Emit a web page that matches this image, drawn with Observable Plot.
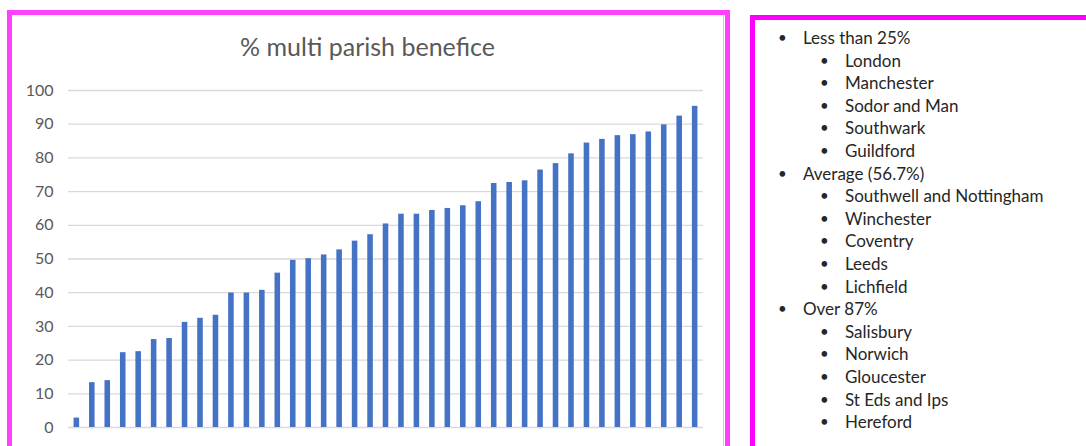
<!DOCTYPE html>
<html>
<head>
<meta charset="utf-8">
<script src="https://cdn.jsdelivr.net/npm/d3@7"></script>
<script src="https://cdn.jsdelivr.net/npm/@observablehq/plot@0.6"></script>
<style>
  html, body { margin: 0; padding: 0; background: #fff; width: 1086px; height: 446px; overflow: hidden; }
  #leftPanel { position: absolute; left: 7px; top: 10px; width: 713px; height: 460px; border: 5px solid #ff40ff; box-sizing: content-box; }
  #leftInner { position: absolute; left: 12px; top: 15px; width: 711px; height: 460px; border-right: 1px solid #d0d0d0; }
  #rightPanel { position: absolute; left: 750px; top: 15px; width: 400px; height: 460px; border: 5px solid #ff00ff; }
  #title { position: absolute; left: 0; width: 735px; top: 31px; text-align: center; font-family: Lato, sans-serif; font-size: 25px; color: #595959; }
  #chart { position: absolute; left: 0; top: 0; }
  #list { position: absolute; left: 0; top: 0; font-family: Lato, sans-serif; font-size: 17px; color: #262626; }
  .item { position: absolute; white-space: nowrap; }
  .bullet { position: absolute; font-size: 15px; }
</style>
</head>
<body>
<div id="leftPanel"></div>
<div id="leftInner"></div>
<div id="rightPanel"></div>
<div id="title"></div>
<div id="chart"></div>
<div id="list"></div>
<script>
const chartTitle = "% multi parish benefice";
const values = [2.8, 13.3, 13.9, 22.2, 22.5, 26.1, 26.4, 31.2, 32.4, 33.3,
                39.9, 39.9, 40.7, 45.8, 49.6, 50.1, 51.2, 52.7, 55.3, 57.2,
                60.4, 63.3, 63.3, 64.4, 65.0, 65.8, 67.0, 72.4, 72.7, 73.2,
                76.4, 78.3, 81.2, 84.4, 85.5, 86.6, 86.9, 87.7, 89.8, 92.4, 95.3];
const yTicks = [0, 10, 20, 30, 40, 50, 60, 70, 80, 90, 100];
const groups = ["Less than 25%", "Average (56.7%)", "Over 87%"];
const groupMembers = [
  ["London", "Manchester", "Sodor and Man", "Southwark", "Guildford"],
  ["Southwell and Nottingham", "Winchester", "Coventry", "Leeds", "Lichfield"],
  ["Salisbury", "Norwich", "Gloucester", "St Eds and Ips", "Hereford"]
];

document.getElementById("title").textContent = chartTitle;

const data = values.map((v, i) => ({i, v}));

const plot = Plot.plot({
  width: 740,
  height: 446,
  marginLeft: 68,
  marginRight: 37,
  marginTop: 90,
  marginBottom: 19,
  style: {background: "transparent", fontFamily: "Lato, sans-serif", fontSize: "16px", color: "#595959"},
  x: {type: "band", domain: d3.range(values.length), paddingInner: 0.64, paddingOuter: 0.36, round: false, axis: null},
  y: {domain: [0, 100], ticks: yTicks, label: null},
  marks: [
    Plot.gridY(yTicks, {stroke: "#d9d9d9", strokeOpacity: 1, strokeWidth: 1.3}),
    Plot.axisY(yTicks, {tickSize: 0, tickPadding: 15, label: null, fill: "#595959", fontSize: 16}),
    Plot.barY(data, {x: "i", y: "v", fill: "#4472c4"})
  ]
});
document.getElementById("chart").appendChild(plot);

// Bulleted list
const list = document.getElementById("list");
let row = 0;
const lineH = 22.6;
const top0 = 27;
function addLine(text, level) {
  const y = top0 + row * lineH;
  const b = document.createElement("div");
  b.className = "bullet item";
  b.textContent = "•";
  b.style.left = (level === 0 ? 778 : 820) + "px";
  b.style.top = (y + 1) + "px";
  list.appendChild(b);
  const t = document.createElement("div");
  t.className = "item";
  t.textContent = text;
  t.style.left = (level === 0 ? 803 : 845) + "px";
  t.style.top = y + "px";
  list.appendChild(t);
  row++;
}
groups.forEach((g, gi) => {
  addLine(g, 0);
  groupMembers[gi].forEach(m => addLine(m, 1));
});
</script>
</body>
</html>
